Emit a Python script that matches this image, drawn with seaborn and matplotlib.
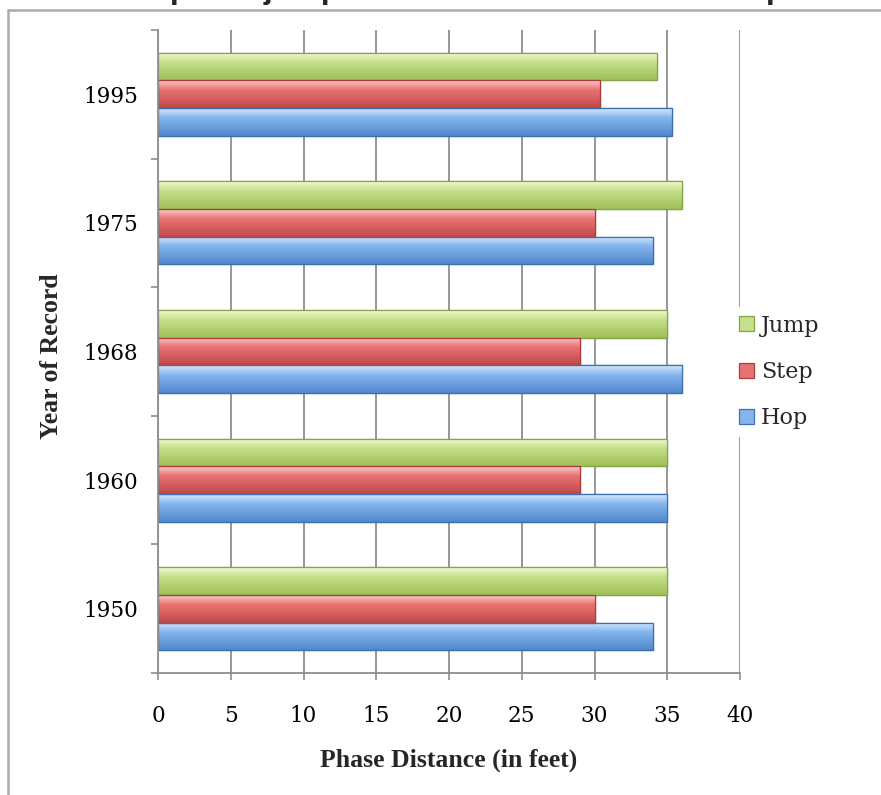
import numpy as np
import pandas as pd
import matplotlib
matplotlib.use("Agg")
import matplotlib.pyplot as plt
from matplotlib.colors import to_rgba
from matplotlib.lines import Line2D
import seaborn as sns

# ---- data ----
years = ["1995", "1975", "1968", "1960", "1950"]
phases = ["Jump", "Step", "Hop"]
jump = [34.3, 36.0, 35.0, 35.0, 35.0]
step = [30.4, 30.0, 29.0, 29.0, 30.0]
hop = [35.3, 34.0, 36.0, 35.0, 34.0]
x_ticks = [0, 5, 10, 15, 20, 25, 30, 35, 40]
title_text = "The Step and jump Phases of World Record Triple Jumps"

df = pd.DataFrame({
    "Year": years * 3,
    "Phase": ["Jump"] * 5 + ["Step"] * 5 + ["Hop"] * 5,
    "Distance": jump + step + hop,
})

base = {"Jump": "#c4e08a", "Step": "#e87272", "Hop": "#84b5ec"}
grad = {
    "Jump": ("#f2fad6", "#c6e08a", "#9fbf58"),
    "Step": ("#fbcaca", "#e87272", "#c24848"),
    "Hop": ("#d4e9ff", "#84b5ec", "#5288cc"),
}
edge = {"Jump": "#86a348", "Step": "#a83e3e", "Hop": "#3f6fae"}

sns.set_style("white")
W, H = 881, 795
fig = plt.figure(figsize=(W / 100, H / 100), dpi=100)
ax = fig.add_axes([158 / W, (H - 673) / H, 582 / W, 643 / H])

sns.barplot(data=df, y="Year", x="Distance", hue="Phase", order=years,
            hue_order=phases, palette=base, orient="h", width=0.645,
            gap=0, saturation=1, ax=ax, legend=True)

ax.set_xlim(0, 40)
ax.set_ylim(4.5, -0.5)
xl, yl = ax.get_xlim(), ax.get_ylim()

# gradient fills on bars
bars = [p for p in ax.patches if p.get_width() > 0]
n = len(years)
for i, p in enumerate(bars):
    ph = phases[i // n]
    c0, c1, c2 = [np.array(to_rgba(c)) for c in grad[ph]]
    t = np.linspace(0, 1, 64)[:, None]
    arr = np.where(t < 0.35, c0 + (c1 - c0) * (t / 0.35),
                   c1 + (c2 - c1) * ((t - 0.35) / 0.65))
    arr = arr[:, None, :]
    x0, y0 = p.get_x(), p.get_y()
    x1, y1 = x0 + p.get_width(), y0 + p.get_height()
    im = ax.imshow(arr, extent=(x0, x1, y1, y0), origin="upper",
                   aspect="auto", zorder=p.get_zorder() + 0.1)
    im.set_clip_path(p)
    p.set_edgecolor(edge[ph])
    p.set_linewidth(0.9)
    ax.add_patch(plt.Rectangle((x0, y0), x1 - x0, y1 - y0, fill=False,
                               edgecolor=edge[ph], linewidth=0.9,
                               zorder=p.get_zorder() + 0.2))
ax.set_xlim(*xl)
ax.set_ylim(*yl)

# grid / spines
gc = "#8f8f8f"
ax.set_xticks(x_ticks)
ax.grid(axis="x", color=gc, linewidth=1.3)
ax.grid(axis="y", visible=False)
ax.set_axisbelow(True)
for s in ["top", "right"]:
    ax.spines[s].set_visible(False)
for s in ["left", "bottom"]:
    ax.spines[s].set_color(gc)
    ax.spines[s].set_linewidth(1.3)

ax.set_yticks(range(len(years)))
ax.set_yticklabels(years)
ax.set_yticks(np.arange(-0.5, len(years), 1.0), minor=True)
ax.tick_params(axis="y", which="major", length=0, pad=14,
               labelsize=15.5, labelcolor="black")
ax.tick_params(axis="y", which="minor", length=5, width=1.2, color=gc,
               left=True)
ax.tick_params(axis="x", which="major", length=5, width=1.2, color=gc,
               pad=18, labelsize=15.5, labelcolor="black", bottom=True)
for lab in ax.get_xticklabels() + ax.get_yticklabels():
    lab.set_fontfamily("DejaVu Serif")

ax.set_xlabel("Phase Distance (in feet)", fontsize=18.5, fontweight="bold",
              fontfamily="Liberation Serif")
ax.set_ylabel("Year of Record", fontsize=18.5, fontweight="bold",
              fontfamily="Liberation Serif")
ax.xaxis.set_label_coords(0.5, (673 - 760) / 643)
ax.xaxis.label.set_va("center")
ax.yaxis.set_label_coords((52 - 158) / 582, (673 - 356) / 643)
ax.yaxis.label.set_va("center")

# legend
handles, labels = ax.get_legend_handles_labels()
leg = ax.legend(handles, labels, loc="center left",
                bbox_to_anchor=(731 / W, (H - 372) / H),
                bbox_transform=fig.transFigure, borderaxespad=0,
                frameon=True, facecolor="white", edgecolor="none",
                framealpha=1, fancybox=False,
                handlelength=0.68, handleheight=0.68, handletextpad=0.33,
                labelspacing=1.1, borderpad=0.35,
                prop={"family": "DejaVu Serif", "size": 16})
for h, ph in zip(leg.legend_handles, labels):
    h.set_edgecolor(edge[ph])
    h.set_linewidth(0.9)

# outer chart border (partly cropped in reference)
bc = "#ababab"
fig.add_artist(Line2D([8 / W, 1.0], [(H - 10) / H, (H - 10) / H],
                      transform=fig.transFigure, color=bc, linewidth=1.8))
fig.add_artist(Line2D([8 / W, 8 / W], [0, (H - 10) / H],
                      transform=fig.transFigure, color=bc, linewidth=1.8))

# title, cropped at the top in the reference
fig.text(54 / W, 1 + 2 / H, title_text, ha="left", va="baseline",
         fontsize=23, fontweight="bold", fontfamily="Liberation Sans")

fig.savefig("out.png", dpi=100)
